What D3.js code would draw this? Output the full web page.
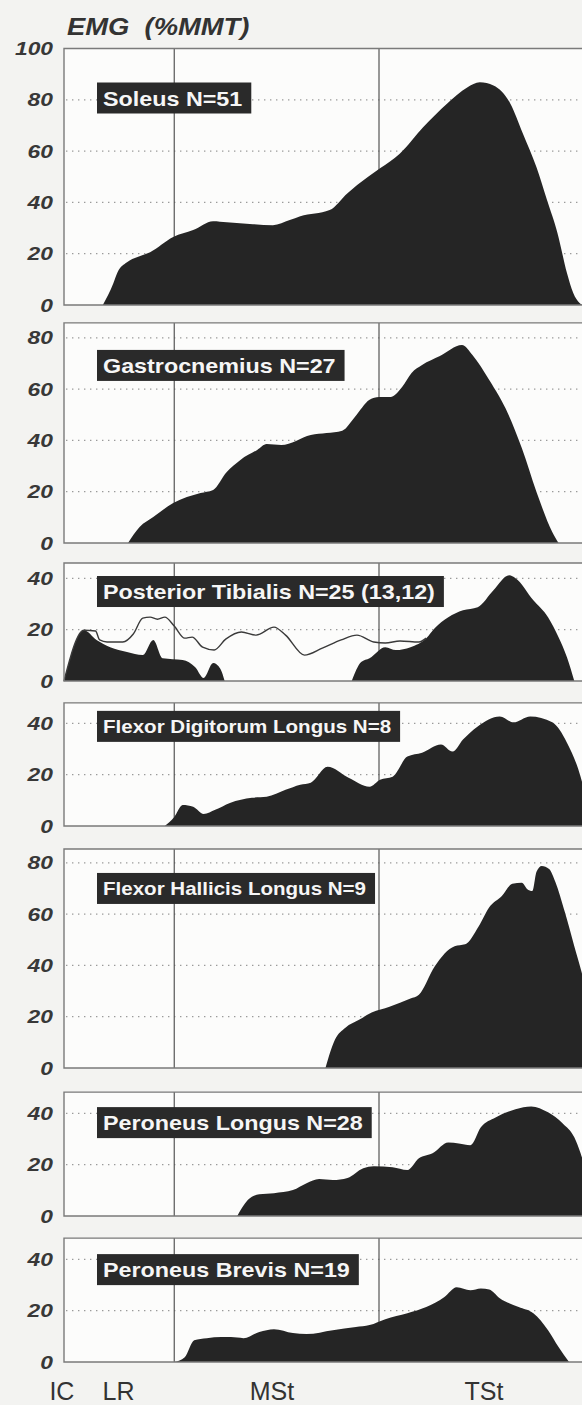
<!DOCTYPE html>
<html>
<head>
<meta charset="utf-8">
<script src="https://cdn.jsdelivr.net/npm/d3@7"></script>
<style>
  html, body { margin: 0; padding: 0; background: #f3f3f1; }
  svg { display: block; }
  text { font-family: "Liberation Sans", Arial, Helvetica, sans-serif; }
</style>
</head>
<body>
<svg id="chart" width="582" height="1405"></svg>
<script>
// EMG (% of manual muscle test) across stance, x = % of gait cycle.
const muscleNames = [
  "Soleus N=51",
  "Gastrocnemius N=27",
  "Posterior Tibialis N=25 (13,12)",
  "Flexor Digitorum Longus N=8",
  "Flexor Hallicis Longus N=9",
  "Peroneus Longus N=28",
  "Peroneus Brevis N=19"
];

const soleus = [[3.7,0],[4.7,8.5],[5.1,12.8],[6.0,16.7],[7.0,18.7],[8.2,20.6],[10.4,26.5],[12.3,29.2],
  [14.2,32.7],[15.5,32.3],[18.0,31.5],[19.9,31.1],[21.5,33.1],[22.5,34.6],[25.3,37.0],[27.0,43.6],
  [28.9,49.8],[30.1,53.3],[32.0,59.1],[34.2,69.3],[36.5,78.6],[38.4,84.8],[39.6,86.8],[40.9,85.6],
  [42.5,78.6],[43.7,66.9],[45.0,53.7],[46.0,40.9],[47.0,28.0],[47.9,12.5],[48.5,4.7],[49.1,0.8],[49.4,0]];

const gastrocnemius = [[6.1,0],[7.2,6.2],[8.5,10.1],[10.4,15.6],[13.0,19.5],[14.2,20.7],[15.5,27.7],
  [16.8,32.4],[18.4,36.3],[19.3,38.6],[20.7,38.2],[23.5,42.1],[26.5,43.8],[27.7,49.1],[29.1,55.8],
  [30.0,56.9],[31.1,56.9],[32.2,60.8],[33.1,66.3],[34.1,69.4],[35.8,72.9],[37.9,77.2],[38.9,73.3],
  [40.5,63.5],[42.3,50.3],[43.6,37.0],[45.0,19.9],[46.5,4.3],[47.1,0]];

// two bursts of the first subgroup, separated by null
const posteriorTibialis = [[0,0],[1.9,19.8],[3.1,16.0],[4.4,13.2],[6.0,11.3],[7.5,10.1],[8.5,16.0],
  [9.4,8.9],[11.3,8.2],[12.5,5.4],[13.3,1.2],[14.2,7.0],[14.9,4.7],[15.3,0], null,
  [27.4,0],[28.3,7.4],[29.1,8.9],[30.6,13.2],[31.6,12.1],[33.0,13.2],[34.5,16.7],[35.3,20.6],
  [36.6,24.9],[38.0,27.6],[39.4,28.8],[40.9,35.4],[42.4,41.2],[43.0,40.1],[44.7,31.5],[46.1,24.9],
  [47.1,17.1],[47.9,9.3],[48.6,0]];

// second subgroup, drawn as an outline
const posteriorTibialisLine = [[0,0],[1.9,19.8],[3.0,19.5],[3.4,16.0],[4.1,15.2],[5.6,15.2],[6.6,18.3],
  [7.5,24.5],[8.2,24.9],[8.9,24.1],[9.6,24.9],[10.5,21.4],[11.5,16.7],[12.2,17.1],[13.2,13.2],
  [14.3,12.1],[15.4,16.3],[16.9,19.1],[18.3,17.9],[20.0,21.0],[21.1,17.9],[22.9,10.1],[24.6,12.8],
  [26.4,16.0],[27.9,17.9],[29.5,15.2],[30.6,14.8],[32.0,15.6],[33.8,15.2],[34.5,16.7]];

const flexorDigitorum = [[9.6,0],[10.5,3.5],[11.3,8.2],[12.3,7.5],[13.3,4.7],[14.4,6.3],[15.8,9.0],
  [17.9,11.0],[19.3,11.4],[21.1,14.1],[22.5,16.1],[23.5,16.9],[25.1,23.1],[27.1,18.8],[29.1,15.3],
  [30.1,18.0],[31.3,19.2],[32.7,27.1],[34.1,28.6],[35.9,31.8],[37.0,29.0],[38.0,33.7],[39.4,38.8],
  [41.5,42.7],[42.8,40.4],[44.4,42.7],[46.5,40.4],[47.9,32.5],[49.2,19.2],[50.3,0]];

const flexorHallucis = [[24.9,0],[25.8,11.0],[26.8,15.7],[28.1,18.8],[29.3,21.6],[31.0,23.9],[33.0,27.1],
  [33.8,28.6],[35.3,39.6],[37.2,47.5],[38.2,48.2],[39.5,55.3],[40.5,62.7],[41.7,67.1],[42.7,71.8],
  [43.6,72.2],[44.1,69.8],[44.6,69.0],[45.0,76.5],[45.5,78.8],[46.2,77.6],[46.8,72.5],[47.7,60.8],
  [48.6,47.5],[49.3,37.3],[50.3,18.0],[51.2,0]];

const peroneusLongus = [[16.5,0],[17.5,6.2],[18.6,8.5],[20.0,8.9],[21.8,10.1],[23.1,12.8],[24.3,14.4],
  [25.6,14.0],[27.0,14.8],[28.5,18.6],[29.5,19.4],[31.3,19.0],[32.7,17.9],[33.8,22.5],[35.1,24.5],
  [36.6,28.7],[37.6,28.3],[38.7,27.6],[39.7,34.6],[41.1,38.4],[43.0,41.6],[44.5,42.7],[46.1,40.4],
  [47.5,36.1],[48.6,30.7],[49.2,24.5],[50.3,8.0],[51.0,0]];

const peroneusBrevis = [[10.5,0],[11.5,1.9],[12.4,8.5],[13.6,9.3],[15.0,9.7],[15.9,9.7],[17.1,9.3],
  [18.6,11.7],[20.0,12.8],[21.8,11.3],[23.1,10.9],[25.6,12.4],[27.8,13.6],[29.1,14.4],[30.6,16.7],
  [32.7,19.0],[34.5,21.4],[36.2,25.2],[37.4,29.1],[38.7,28.0],[39.7,28.7],[40.5,28.3],[41.5,24.9],
  [43.3,21.4],[44.7,19.0],[46.1,12.4],[47.1,5.8],[48.1,0]];

const muscleSeries = [soleus, gastrocnemius, posteriorTibialis, flexorDigitorum,
  flexorHallucis, peroneusLongus, peroneusBrevis];

// y-axis extent and tick labels for each panel
const yMaxima = [100, 85.8, 46, 48, 85.4, 48.3, 48.3];
const yTickValues = [
  [0,20,40,60,80,100], [0,20,40,60,80], [0,20,40], [0,20,40],
  [0,20,40,60,80], [0,20,40], [0,20,40]
];

// gait phases: boundaries (% cycle) and labels
const phaseBounds = [10.5, 30];
const phaseNames = ["IC", "LR", "MSt", "TSt"];
const phaseLabelPct = [-0.2, 5.2, 19.8, 40];

// ---------- layout ----------
const W = 582, H = 1405;
const pxPerUnit = 2.565;
const panelZero = [305, 543, 681, 826, 1068, 1216, 1362];
const labelBoxOffset = [34, 27, 13, 8, 24, 15, 16];
const labelFont = [21, 21, 21, 18.5, 18.5, 21, 21];
const textStretch = 1.11;

const svg = d3.select("#chart");

const x = d3.scaleLinear().domain([0, 50]).range([64, 589]);
const xEnd = x(64);

svg.append("text")
  .attr("x", 67).attr("y", 35)
  .attr("font-size", 23).attr("font-weight", "bold").attr("font-style", "italic")
  .attr("fill", "#333").style("white-space", "pre")
  .text("EMG  (%MMT)")
  .call(stretch, 1.19);

function stretch(sel, k) {
  sel.each(function () {
    const len = this.getComputedTextLength();
    d3.select(this).attr("textLength", len * k).attr("lengthAdjust", "spacingAndGlyphs");
  });
}

muscleSeries.forEach((data, i) => {
  const zero = panelZero[i];
  const top = zero - yMaxima[i] * pxPerUnit;
  const y = d3.scaleLinear().domain([0, yMaxima[i]]).range([zero, top]);
  const g = svg.append("g");

  g.append("rect")
    .attr("x", x(0)).attr("y", top)
    .attr("width", xEnd - x(0)).attr("height", zero - top)
    .attr("fill", "#fcfcfb");

  // dotted grid
  g.selectAll("line.grid")
    .data(yTickValues[i].filter(t => t > 0 && t < yMaxima[i]))
    .join("line")
    .attr("x1", x(0) + 2).attr("x2", xEnd)
    .attr("y1", d => y(d)).attr("y2", d => y(d))
    .attr("stroke", "#9a9a9a").attr("stroke-width", 1.3)
    .attr("stroke-dasharray", "1.4 4.6");

  // phase boundaries
  g.selectAll("line.phase")
    .data(phaseBounds)
    .join("line")
    .attr("x1", d => x(d)).attr("x2", d => x(d))
    .attr("y1", top).attr("y2", zero)
    .attr("stroke", "#555").attr("stroke-width", 1.2);

  const area = d3.area()
    .defined(d => d !== null)
    .x(d => x(d[0]))
    .y0(zero)
    .y1(d => y(d[1]))
    .curve(d3.curveMonotoneX);

  g.append("path")
    .datum(data)
    .attr("d", area)
    .attr("fill", "#252525");

  if (data === posteriorTibialis) {
    const line = d3.line()
      .x(d => x(d[0]))
      .y(d => y(d[1]))
      .curve(d3.curveMonotoneX);
    g.append("path")
      .datum(posteriorTibialisLine)
      .attr("d", line)
      .attr("fill", "none")
      .attr("stroke", "#3a3a3a")
      .attr("stroke-width", 1.4);
  }

  // frame: top, left, bottom
  g.append("path")
    .attr("d", `M${xEnd},${top}H${x(0)}V${zero}H${xEnd}`)
    .attr("fill", "none")
    .attr("stroke", "#7a7a7a")
    .attr("stroke-width", 1.4);

  // y tick labels
  g.selectAll("text.tick")
    .data(yTickValues[i])
    .join("text")
    .attr("x", 53)
    .attr("y", d => y(d) + 6.6)
    .attr("text-anchor", "end")
    .attr("font-size", 19)
    .attr("font-weight", "bold")
    .attr("font-style", "italic")
    .attr("fill", "#383838")
    .text(d => d)
    .call(stretch, 1.2);

  // name label box
  const boxTop = top + labelBoxOffset[i];
  const box = g.append("rect")
    .attr("x", 97).attr("y", boxTop).attr("height", 31)
    .attr("fill", "#2a2a2a");
  const label = g.append("text")
    .attr("x", 103)
    .attr("y", boxTop + 15.5 + labelFont[i] * 0.36)
    .attr("font-size", labelFont[i])
    .attr("font-weight", "bold")
    .attr("fill", "#f6f6f6")
    .text(muscleNames[i])
    .call(stretch, textStretch);
  box.attr("width", +label.attr("textLength") + 15);
});

// phase labels under the last panel
svg.selectAll("text.phaseLabel")
  .data(phaseNames)
  .join("text")
  .attr("x", (d, i) => x(phaseLabelPct[i]))
  .attr("y", 1400)
  .attr("text-anchor", "middle")
  .attr("font-size", 25)
  .attr("fill", "#333")
  .text(d => d);
</script>
</body>
</html>
